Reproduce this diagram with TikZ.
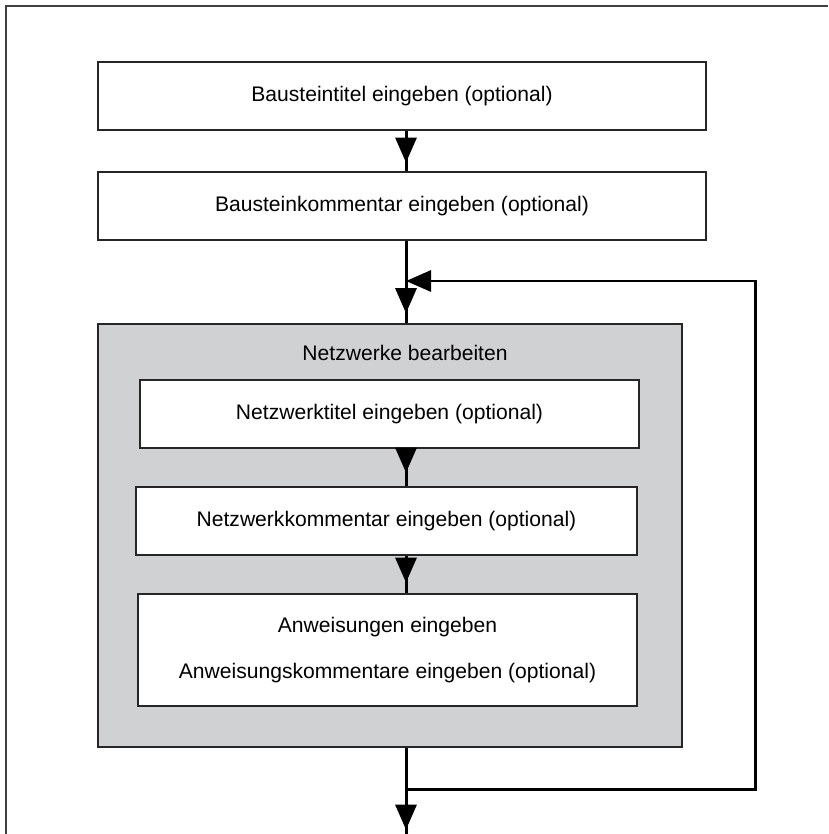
\documentclass[tikz,border=0pt]{standalone}
\usepackage{fontspec}
\setmainfont{Liberation Sans}
\usepackage{tikz}
\usetikzlibrary{arrows.meta,decorations.markings}
\definecolor{netgray}{RGB}{208,209,211}

\begin{document}
\begin{tikzpicture}[x=0.02cm,y=-0.02cm,>={Triangle[length=0.5cm,width=0.42cm]},
		box/.style={draw=black!85,line width=1.1pt,fill=white,inner sep=0pt,font=\fontsize{12}{14}\selectfont},
		flow/.style={line width=1.7pt,postaction={decorate},
			decoration={markings,mark=at position #1 with {\arrow{>}}}}]
			\useasboundingbox (0,0) rectangle (828,834);
			\draw[line width=1.2pt,black!75] (6,834) |- (828,6);
			
			\node[box,minimum width=12.16cm,minimum height=1.36cm] (titel) at (402,96) {Bausteintitel eingeben (optional)};
			\node[box,minimum width=12.16cm,minimum height=1.36cm] (komm) at (402,206) {Bausteinkommentar eingeben (optional)};
			
			\node[box,fill=netgray,minimum width=11.68cm,minimum height=8.46cm] (netz) at (390,535.5) {};
			\node[font=\fontsize{12}{14}\selectfont] (netztitel) at (405,353) {Netzwerke bearbeiten};
			\node[box,minimum width=9.98cm,minimum height=1.36cm] (ntitel) at (389.5,414) {Netzwerktitel eingeben (optional)};
			\node[box,minimum width=10.02cm,minimum height=1.36cm] (nkomm) at (386.5,521) {Netzwerkkommentar eingeben (optional)};
			\node[box,align=center,minimum width=9.98cm,minimum height=2.24cm] (anw) at (387.5,650)
				{Anweisungen eingeben\\[12pt]Anweisungskommentare eingeben (optional)};
			
			\coordinate (j) at (406,281);
			\coordinate (b) at (406,789);
			\coordinate (r) at (755,789);
			\coordinate (e) at (406,834);
			
			\draw[flow=0.79] (titel.south -| j) -- (komm.north -| j);
			\draw[flow=0.88] (komm.south -| j) -- (netz.north -| j);
			\draw[flow=0.64] (ntitel.south -| j) -- (nkomm.north -| j);
			\draw[flow=0.72] (nkomm.south -| j) -- (anw.north -| j);
			\draw[flow=0.95] (netz.south -| j) -- (e);
			
			% Schleife zurueck
			\draw[line width=1.7pt,->] (b) -- (r) |- (j);
		\end{tikzpicture}
\end{document}
